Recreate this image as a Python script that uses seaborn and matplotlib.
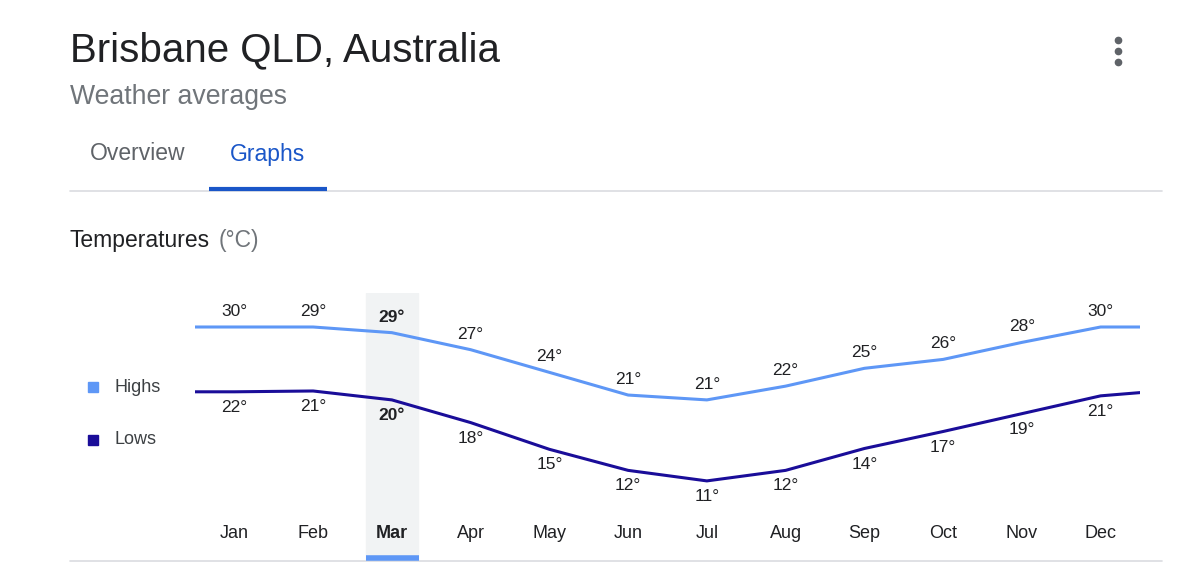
import matplotlib
matplotlib.use("Agg")
import matplotlib.pyplot as plt
import seaborn as sns
import pandas as pd
from matplotlib.patches import Rectangle

months = ["Jan","Feb","Mar","Apr","May","Jun","Jul","Aug","Sep","Oct","Nov","Dec"]
highs = [30.0, 30.0, 29.3, 27.2, 24.4, 21.6, 21.0, 22.7, 24.9, 26.0, 28.1, 30.0]
lows = [22.0, 22.1, 21.0, 18.2, 14.9, 12.3, 11.0, 12.3, 15.0, 17.1, 19.3, 21.5]
high_labels = [30, 29, 29, 27, 24, 21, 21, 22, 25, 26, 28, 30]
low_labels = [22, 21, 20, 18, 15, 12, 11, 12, 14, 17, 19, 21]
low_end = 21.9
selected = 2

HC = "#5e97f6"
LC = "#1a0d99"
FONT = ["Liberation Sans", "DejaVu Sans"]

sns.set_theme(style="white")
plt.rcParams["font.family"] = FONT

fig = plt.figure(figsize=(12, 5.75), dpi=100)
bg = fig.add_axes([0, 0, 1, 1])
bg.set_xlim(0, 1200); bg.set_ylim(575, 0); bg.axis("off")

bg.text(70, 50, "Brisbane QLD, Australia", fontsize=29, va="center", color="#202124")
bg.text(70, 97, "Weather averages", fontsize=19.2, va="center", color="#70757a")
bg.text(90, 154, "Overview", fontsize=16.5, va="center", color="#5f6368")
bg.text(230, 154, "Graphs", fontsize=16.5, va="center", color="#1a56c8")
bg.plot([70, 1162], [191, 191], color="#dadce0", lw=1.2)
bg.plot([209, 327], [189, 189], color="#1a56c8", lw=3, solid_capstyle="butt")
bg.text(70, 240, "Temperatures", fontsize=16.5, va="center", color="#202124")
bg.text(219, 240, "(°C)", fontsize=16.5, va="center", color="#70757a")
for yy in (40, 51, 62):
    bg.plot(1118, yy, "o", color="#5f6368", ms=4.5)
bg.add_patch(Rectangle((88, 382), 10, 10, color=HC))
bg.add_patch(Rectangle((88, 435), 10, 10, color=LC))
bg.text(115, 387, "Highs", fontsize=13, va="center", color="#3c4043")
bg.text(115, 440, "Lows", fontsize=13, va="center", color="#3c4043")
bg.plot([70, 1162], [561, 561], color="#dadce0", lw=1.2)
bg.plot([366, 419], [558, 558], color=HC, lw=4, solid_capstyle="butt")

ax = fig.add_axes([195/1200, 15/575, 945/1200, 267/575])
ax.set_zorder(-1)
ax.set_xlim(-0.5, 11.5)
ax.set_ylim(30 - (560-327)/8.1, 30 - (293-327)/8.1)
ax.axis("off")
ax.axvspan(selected-0.33, selected+0.33, color="#f1f3f4", zorder=0)

xs = [-0.5] + list(range(12)) + [11.5]
df = pd.DataFrame({
    "x": xs * 2,
    "t": [highs[0]] + highs + [highs[-1]] + [lows[0]] + lows + [low_end],
    "s": ["Highs"] * 14 + ["Lows"] * 14,
})
sns.lineplot(data=df, x="x", y="t", hue="s", palette={"Highs": HC, "Lows": LC},
             lw=2.2, legend=False, ax=ax, zorder=2)

for i, m in enumerate(months):
    w = "bold" if i == selected else "normal"
    ax.text(i, highs[i] + 1.0, f"{high_labels[i]}°", ha="center", va="bottom",
            fontsize=12.5, weight=w, color="#202124")
    ax.text(i, lows[i] - 1.0, f"{low_labels[i]}°", ha="center", va="top",
            fontsize=12.5, weight=w, color="#202124")
    ax.text(i, 30 - (533-327)/8.1, m, ha="center", va="center",
            fontsize=13, weight=w, color="#202124")

fig.savefig("out.png", dpi=100)
